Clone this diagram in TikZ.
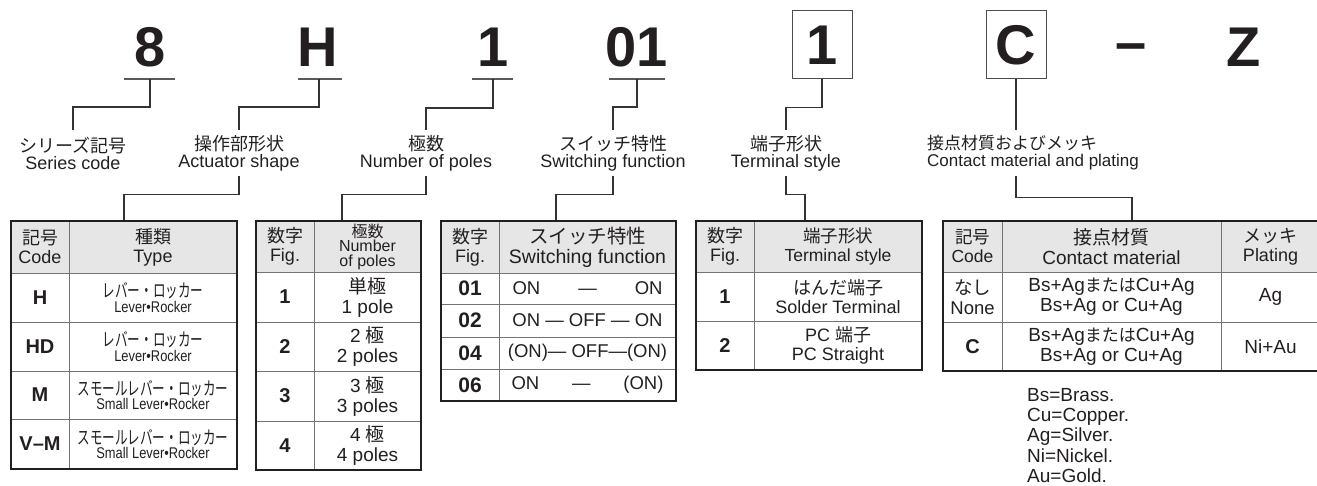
\documentclass[tikz,border=0pt]{standalone}
\usepackage{fontspec}
\setmainfont{Liberation Sans}
\newfontfamily\jp{Noto Sans CJK JP}
\newfontfamily\jpc[FakeStretch=0.68]{Noto Sans CJK JP}
\newfontfamily\enc[FakeStretch=0.83]{Liberation Sans}
\definecolor{headgray}{RGB}{230,230,230}
\definecolor{ink}{RGB}{35,31,32}
\newcommand{\fs}[2]{\fontsize{#1}{#2}\selectfont}
% cells: [font], name, x1, y1, x2, y2, text
\newcommand{\hcell}[7][]{\draw[innerline,fill=headgray] (#3,#4) rectangle (#5,#6) node[pos=.5,htxt,#1] (#2) {#7};}
\newcommand{\bcell}[7][]{\draw[innerline] (#3,#4) rectangle (#5,#6) node[pos=.5,btxt,#1] (#2) {#7};}
\newcommand{\tframe}[4]{\draw[outerline] (#1,#2) rectangle (#3,#4);}
\newcommand{\lever}[2]{{\jpc\fs{18.5}{14.5}#1}\\{\enc\fs{15.5}{14.5}#2}}
\tikzset{
  innerline/.style={draw=black!55, line width=0.9pt},
  outerline/.style={draw=ink, line width=1.6pt},
  htxt/.style={font=\fs{18}{19}, text=ink, align=center, inner sep=0pt},
  btxt/.style={font=\fs{19}{20}, text=ink, align=center, inner sep=0pt},
  codetxt/.style={font=\fs{20}{20}\bfseries},
  desc/.style={font=\fs{16}{14.5}},
  conn/.style={draw=black!80, line width=1.1pt},
  uline/.style={draw=black!65, line width=1.3pt},
  bigchar/.style={font=\fs{56}{56}\bfseries, text=ink, inner sep=0pt, anchor=base},
  boxchar/.style={font=\fs{56}{56}\bfseries, text=ink, inner sep=0pt, draw=black!70, line width=1pt, minimum width=60pt, minimum height=68pt},
  lbl/.style={font=\fs{18}{17}, text=ink, align=center, inner sep=0pt, minimum height=46pt}
}

\begin{document}
\begin{tikzpicture}[x=1pt,y=-1pt]
	\useasboundingbox (0,0) rectangle (1317,486);

	% part number
	\node[bigchar] (c8) at (150,67) {8};
	\node[bigchar] (cH) at (318,67) {H};
	\node[bigchar] (c1) at (493,67) {1};
	\node[bigchar] (c01) at (637,67) {01};
	\node[boxchar] (cT) at (822,45) {1};
	\node[boxchar] (cC) at (1016,45) {C};
	\node[bigchar] (cdash) at (1131,62) {–};
	\node[bigchar] (cZ) at (1244,67) {Z};

	\draw[uline] (124,79) -- (175,79);
	\draw[uline] (298,79) -- (342,79);
	\draw[uline] (472,79) -- (513,79);
	\draw[uline] (609,79) -- (665,79);
	\coordinate (u8) at (150,79);
	\coordinate (uH) at (319,79);
	\coordinate (u1) at (493,79);
	\coordinate (u01) at (637,79);

	% labels
	\node[lbl] (lser) at (73,153) {{\jp シリーズ記号}\\Series code};
	\node[lbl] (lact) at (239,153) {{\jp 操作部形状}\\Actuator shape};
	\node[lbl] (lpol) at (426,153) {{\jp 極数}\\Number of poles};
	\node[lbl] (lsw) at (613,153) {{\jp スイッチ特性}\\Switching function};
	\node[lbl] (lterm) at (786,153) {{\jp 端子形状}\\Terminal style};
	\node[lbl,align=left,anchor=west,font=\fs{17}{17}] (lcont) at (927,153) {{\jp 接点材質およびメッキ}\\Contact material and plating};

	\coordinate (tact) at (124,221);
	\coordinate (tpol) at (342,221);
	\coordinate (tsw) at (556,221);
	\coordinate (tterm) at (805,221);
	\coordinate (tcont) at (1132,221);

	\draw[conn] (u8) -- ++(0,28) -| (lser.north);
	\draw[conn] (uH) -- ++(0,28) -| (lact.north);
	\draw[conn] (u1) -- ++(0,29) -| (lpol.north);
	\draw[conn] (u01) -- ++(0,28) -| (lsw.north);
	\draw[conn] (cT.south) -- ++(0,28) -| (lterm.north);
	\draw[conn] (cC.south) -- (cC.south |- lcont.north);

	\draw[conn] (lact.south) -- ++(0,18) -| (tact);
	\draw[conn] (lpol.south) -- ++(0,18) -| (tpol);
	\draw[conn] (lsw.south) -- ++(0,18) -| (tsw);
	\draw[conn] (lterm.south) -- ++(0,18) -| (tterm);
	\draw[conn] (cC.south |- lcont.south) -- ++(0,21) -| (tcont);

	% actuator table
	\hcell{ta11}{11}{221}{69}{273}{{\jp 記号}\\Code}
	\hcell{ta12}{69}{221}{237}{273}{{\jp 種類}\\Type}
	\bcell[codetxt]{ta21}{11}{273}{69}{322}{H}
	\bcell[desc]{ta22}{69}{273}{237}{322}{\lever{レバー・ロッカー}{Lever•Rocker}}
	\bcell[codetxt]{ta31}{11}{322}{69}{371}{HD}
	\bcell[desc]{ta32}{69}{322}{237}{371}{\lever{レバー・ロッカー}{Lever•Rocker}}
	\bcell[codetxt]{ta41}{11}{371}{69}{419}{M}
	\bcell[desc]{ta42}{69}{371}{237}{419}{\lever{スモールレバー・ロッカー}{Small Lever•Rocker}}
	\bcell[codetxt]{ta51}{11}{419}{69}{469}{V–M}
	\bcell[desc]{ta52}{69}{419}{237}{469}{\lever{スモールレバー・ロッカー}{Small Lever•Rocker}}
	\tframe{11}{221}{237}{469}

	% poles table
	\hcell{tp11}{256}{221}{314}{272}{{\jp 数字}\\Fig.}
	\hcell[font=\fs{16}{14.5}]{tp12}{314}{221}{421}{272}{{\jp 極数}\\Number\\of poles}
	\bcell[codetxt]{tp21}{256}{272}{314}{322}{1}
	\bcell{tp22}{314}{272}{421}{322}{{\jp 単極}\\1 pole}
	\bcell[codetxt]{tp31}{256}{322}{314}{371}{2}
	\bcell{tp32}{314}{322}{421}{371}{2 {\jp 極}\\2 poles}
	\bcell[codetxt]{tp41}{256}{371}{314}{421}{3}
	\bcell{tp42}{314}{371}{421}{421}{3 {\jp 極}\\3 poles}
	\bcell[codetxt]{tp51}{256}{421}{314}{470}{4}
	\bcell{tp52}{314}{421}{421}{470}{4 {\jp 極}\\4 poles}
	\tframe{256}{221}{421}{470}

	% switching table
	\hcell{ts11}{441}{221}{499}{273}{{\jp 数字}\\Fig.}
	\hcell[font=\fs{19.5}{20}]{ts12}{499}{221}{676}{273}{{\jp スイッチ特性}\\Switching function}
	\bcell[codetxt,font=\fs{21}{21}\bfseries]{ts21}{441}{273}{499}{304}{01}
	\bcell[font=\fs{18.5}{20}]{ts22}{499}{273}{676}{304}{\hbox to 150pt{ON\hfill—\hfill ON}}
	\bcell[codetxt,font=\fs{21}{21}\bfseries]{ts31}{441}{304}{499}{337}{02}
	\bcell[font=\fs{18.5}{20}]{ts32}{499}{304}{676}{337}{ON — OFF — ON}
	\bcell[codetxt,font=\fs{21}{21}\bfseries]{ts41}{441}{337}{499}{369}{04}
	\bcell[font=\fs{18.5}{20}]{ts42}{499}{337}{676}{369}{(ON)— OFF—(ON)}
	\bcell[codetxt,font=\fs{21}{21}\bfseries]{ts51}{441}{369}{499}{401}{06}
	\bcell[font=\fs{18.5}{20}]{ts52}{499}{369}{676}{401}{\hbox to 152pt{ON\hfill—\hfill (ON)}}
	\tframe{441}{221}{676}{401}

	% terminal table
	\hcell{tt11}{696}{221}{754}{272}{{\jp 数字}\\Fig.}
	\hcell[font=\fs{17.5}{19}]{tt12}{754}{221}{922}{272}{{\jp 端子形状}\\Terminal style}
	\bcell[codetxt]{tt21}{696}{272}{754}{321}{1}
	\bcell[font=\fs{18}{19}]{tt22}{754}{272}{922}{321}{{\jp はんだ端子}\\Solder Terminal}
	\bcell[codetxt]{tt31}{696}{321}{754}{370}{2}
	\bcell[font=\fs{18}{19}]{tt32}{754}{321}{922}{370}{PC {\jp 端子}\\PC Straight}
	\tframe{696}{221}{922}{370}

	% contact table
	\hcell[font=\fs{17.5}{19}]{tc11}{943}{221}{1002}{272}{{\jp 記号}\\Code}
	\hcell[font=\fs{19}{20}]{tc12}{1002}{221}{1221}{272}{{\jp 接点材質}\\Contact material}
	\hcell{tc13}{1221}{221}{1320}{272}{{\jp メッキ}\\Plating}
	\bcell[font=\fs{18.5}{20}]{tc21}{943}{272}{1002}{322}{{\jp なし}\\None}
	\bcell{tc22}{1002}{272}{1221}{322}{Bs+Ag{\jp\fs{17}{20}または}Cu+Ag\\Bs+Ag or Cu+Ag}
	\bcell{tc23}{1221}{272}{1320}{322}{Ag}
	\bcell[codetxt]{tc31}{943}{322}{1002}{371}{C}
	\bcell{tc32}{1002}{322}{1221}{371}{Bs+Ag{\jp\fs{17}{20}または}Cu+Ag\\Bs+Ag or Cu+Ag}
	\bcell{tc33}{1221}{322}{1320}{371}{Ni+Au}
	\tframe{943}{221}{1320}{371}

	\node[anchor=north west,align=left,inner sep=0pt,text=ink,font=\fs{19}{20.3}] (notes) at (1027,388) {Bs=Brass.\\Cu=Copper.\\Ag=Silver.\\Ni=Nickel.\\Au=Gold.};
\end{tikzpicture}
\end{document}
